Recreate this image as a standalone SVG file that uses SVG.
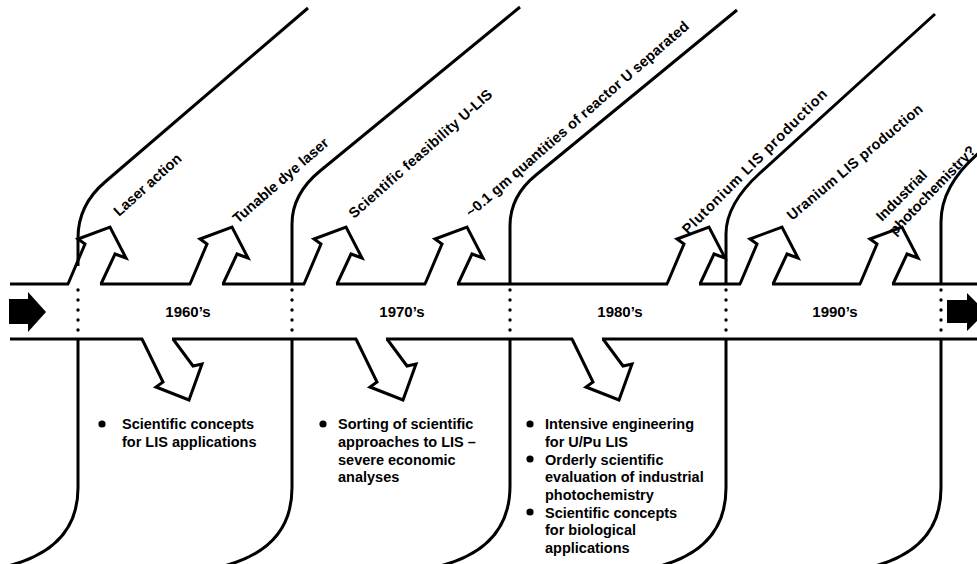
<svg xmlns="http://www.w3.org/2000/svg" width="977" height="564" viewBox="0 0 977 564">
<style>
.ln{fill:none;stroke:#000;stroke-width:3;stroke-linejoin:miter;stroke-miterlimit:8}
.t{font-family:"Liberation Sans",Arial,Helvetica,sans-serif;font-weight:bold;font-size:14.5px;fill:#000}
.yr{font-family:"Liberation Sans",Arial,Helvetica,sans-serif;font-weight:bold;font-size:15px;fill:#000;text-anchor:middle}
.dot{fill:#000}
</style>
<defs>
<g id="dots"><circle cx="0" cy="290" r="1.7"/><circle cx="0" cy="300" r="1.7"/><circle cx="0" cy="310" r="1.7"/><circle cx="0" cy="320" r="1.7"/><circle cx="0" cy="330" r="1.7"/></g>
</defs>
<rect width="977" height="564" fill="#fff"/>

<g id="timeline-band">
<path class="ln" d="M10,284 H69 M100,284 H191 M222,284 H305 M336,284 H426 M457,284 H668 M699,284 H741 M772,284 H861 M892,284 H977"/>
<path class="ln" d="M10,339 H143 M172,339 H357 M386,339 H573 M602,339 H977"/>
<path id="start-arrow" d="M9,299 H28 V292 L46,312 L28,332 V324 H9 Z" fill="#000"/>
<path id="end-arrow" d="M947,300 H967 V293 L986,312 L967,331 V323 H947 Z" fill="#000"/>
<g class="dot"><use href="#dots" x="78"/><use href="#dots" x="292"/><use href="#dots" x="510"/><use href="#dots" x="726"/><use href="#dots" x="941"/></g>
<text class="yr" x="188" y="317">1960’s</text>
<text class="yr" x="402" y="317">1970’s</text>
<text class="yr" x="620" y="317">1980’s</text>
<text class="yr" x="835" y="317">1990’s</text>
</g>

<g id="milestone-laser-action">
<path class="ln" d="M78,266 V238 Q78,205 105,182 L308,8"/>
<text class="t" transform="translate(119,217) rotate(-42)">Laser action</text>
</g>
<g id="milestone-tunable-dye-laser">
<path class="ln" d="M292,284 V224 Q292,194 320,171 L520,7"/>
<text class="t" transform="translate(238,224) rotate(-41)">Tunable dye laser</text>
</g>
<g id="milestone-scientific-feasibility">
<path class="ln" d="M510,284 V226 Q510,196 536,175 L737,10"/>
<text class="t" transform="translate(354,219) rotate(-41.5)" textLength="186" lengthAdjust="spacing">Scientific feasibility U-LIS</text>
</g>
<g id="milestone-reactor-u">
<text class="t" transform="translate(471,218) rotate(-41)" textLength="290" lengthAdjust="spacing">~0.1 gm quantities of reactor U separated</text>
</g>
<g id="milestone-plutonium">
<path class="ln" d="M726,284 V234 Q726,204 760,173 L935,14"/>
<text class="t" transform="translate(688,235) rotate(-45)" textLength="198" lengthAdjust="spacing">Plutonium LIS production</text>
</g>
<g id="milestone-uranium">
<text class="t" transform="translate(792,221) rotate(-40)" textLength="172" lengthAdjust="spacing">Uranium LIS production</text>
</g>
<g id="milestone-industrial">
<path class="ln" d="M941,284 V222 Q941,185 980,152"/>
<text class="t" transform="translate(882,222) rotate(-45)">Industrial</text>
<text class="t" transform="translate(895,236) rotate(-46)">photochemistry?</text>
</g>

<g id="era-1960s">
<path class="ln" d="M78,339 V488 Q78,548 8,566"/>
<circle cx="102" cy="424" r="3.6"/>
<text class="t" x="122" y="429">Scientific concepts</text>
<text class="t" x="122" y="447">for LIS applications</text>
</g>
<g id="era-1970s">
<path class="ln" d="M292,339 V488 Q292,548 224,566"/>
<circle cx="323" cy="424" r="3.6"/>
<text class="t" x="338" y="429">Sorting of scientific</text>
<text class="t" x="338" y="447">approaches to LIS –</text>
<text class="t" x="338" y="465">severe economic</text>
<text class="t" x="338" y="482">analyses</text>
</g>
<g id="era-1980s">
<path class="ln" d="M510,339 V486 Q510,548 440,566"/>
<circle cx="530" cy="424" r="3.6"/>
<circle cx="530" cy="459" r="3.6"/>
<circle cx="530" cy="512" r="3.6"/>
<text class="t" x="545" y="429">Intensive engineering</text>
<text class="t" x="545" y="447">for U/Pu LIS</text>
<text class="t" x="545" y="465">Orderly scientific</text>
<text class="t" x="545" y="482">evaluation of industrial</text>
<text class="t" x="545" y="500">photochemistry</text>
<text class="t" x="545" y="518">Scientific concepts</text>
<text class="t" x="545" y="535">for biological</text>
<text class="t" x="545" y="553">applications</text>
</g>
<g id="era-1990s">
<path class="ln" d="M726,339 V488 Q726,548 660,566"/>
</g>
<g id="era-2000s">
<path class="ln" d="M941,339 V488 Q941,548 875,566"/>
</g>

<g id="connectors">
<path class="ln" d="M68,284 L85,244 L78,239 L110,227 L126,258 L115,254 L101,284"/>
<path class="ln" d="M190,284 L207,244 L200,239 L232,227 L248,258 L237,254 L223,284"/>
<path class="ln" d="M304,284 L321,244 L314,239 L346,227 L362,258 L351,254 L337,284"/>
<path class="ln" d="M425,284 L442,244 L435,239 L467,227 L483,258 L472,254 L458,284"/>
<path class="ln" d="M667,284 L684,244 L677,239 L709,227 L725,258 L714,254 L700,284"/>
<path class="ln" d="M740,284 L757,244 L750,239 L782,227 L798,258 L787,254 L773,284"/>
<path class="ln" d="M860,284 L877,244 L870,239 L902,227 L918,258 L907,254 L893,284"/>
<path class="ln" d="M142,339 L163,382 L156,387 L189,400 L202,364 L193,366 L173,339"/>
<path class="ln" d="M356,339 L377,382 L370,387 L403,400 L416,364 L407,366 L387,339"/>
<path class="ln" d="M572,339 L593,382 L586,387 L619,400 L632,364 L623,366 L603,339"/>
</g>
</svg>
